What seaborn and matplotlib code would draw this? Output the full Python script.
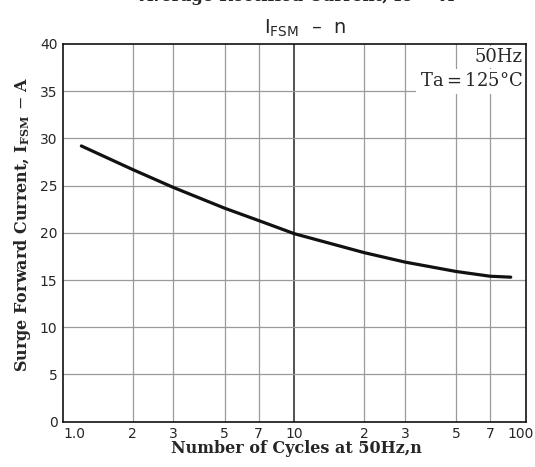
import matplotlib
matplotlib.use("Agg")
import matplotlib.pyplot as plt
import matplotlib.transforms as mtransforms
import seaborn as sns
import pandas as pd

# curve
cycles = [1.2, 2, 3, 5, 7, 10, 20, 30, 50, 70, 86]
surge_current = [29.2, 26.7, 24.8, 22.6, 21.3, 19.9, 17.9, 16.9, 15.9, 15.4, 15.3]

x_ticks = [1, 2, 3, 5, 7, 10, 20, 30, 50, 70, 100]
x_tick_labels = ['1.0', '2', '3', '5', '7', '10', '2', '3', '5', '7', '100']
y_ticks = [0, 5, 10, 15, 20, 25, 30, 35, 40]

df = pd.DataFrame({'n': cycles, 'ifsm': surge_current})

sns.set_style('white')
plt.rcParams['font.family'] = ['DejaVu Sans']

fig = plt.figure(figsize=(5.35, 4.67), dpi=100)
ax = fig.add_axes([0.1178, 0.0972, 0.8652, 0.8086])

sns.lineplot(data=df, x='n', y='ifsm', ax=ax, color='#111111', linewidth=2.3)

ax.set_xscale('log')
ax.set_xlim(1, 100)
ax.set_ylim(0, 40)
ax.set_xticks(x_ticks)
ax.set_xticklabels(x_tick_labels)
ax.minorticks_off()
ax.set_yticks(y_ticks)
ax.tick_params(length=0, labelsize=10, pad=4)
xlabels = ax.get_xticklabels()
xlabels[0].set_ha('left')
# nudge "100" so it hangs past the right edge like the scan, but stays on canvas
xlabels[-1].set_transform(xlabels[-1].get_transform() +
                          mtransforms.ScaledTranslation(-5 / 100, 0, fig.dpi_scale_trans))

for x in x_ticks[1:-1]:
    c = '#222222' if x == 10 else '#9a9a9a'
    ax.axvline(x, color=c, linewidth=1.1 if x == 10 else 0.9, zorder=0)
for y in y_ticks[1:-1]:
    ax.axhline(y, color='#9a9a9a', linewidth=0.9, zorder=0)

for s in ax.spines.values():
    s.set_color('#111111')
    s.set_linewidth(1.2)
    s.set_zorder(6)

ax.set_xlabel('')
ax.set_ylabel('')

serif = ['DejaVu Serif']
fig.text(0.555, 0.040, 'Number of Cycles at 50Hz,n', ha='center', va='center',
         fontsize=11.5, fontweight='bold', family=serif)
fig.text(0.042, 0.52, r'Surge Forward Current, I$_\mathregular{FSM}$ $-$ A', ha='center',
         va='center', rotation=90, fontsize=11.5, fontweight='bold', family=serif)
fig.text(0.57, 0.94, r'I$_\mathregular{FSM}$  –  n', ha='center', va='center', fontsize=14)
fig.text(0.555, 0.998, 'Average Rectified Current, Io — A', ha='center', va='baseline',
         fontsize=12, fontweight='bold', family=serif)

ax.text(0.993, 0.99, '50Hz', transform=ax.transAxes, ha='right', va='top', fontsize=13,
        family=serif, zorder=4, bbox=dict(facecolor='white', edgecolor='none', pad=1.5))
ax.text(0.993, 0.925, 'Ta$=$125°C', transform=ax.transAxes, ha='right', va='top', fontsize=13,
        family=serif, zorder=4, bbox=dict(facecolor='white', edgecolor='none', pad=2.5))

fig.savefig('out.png', dpi=100)
